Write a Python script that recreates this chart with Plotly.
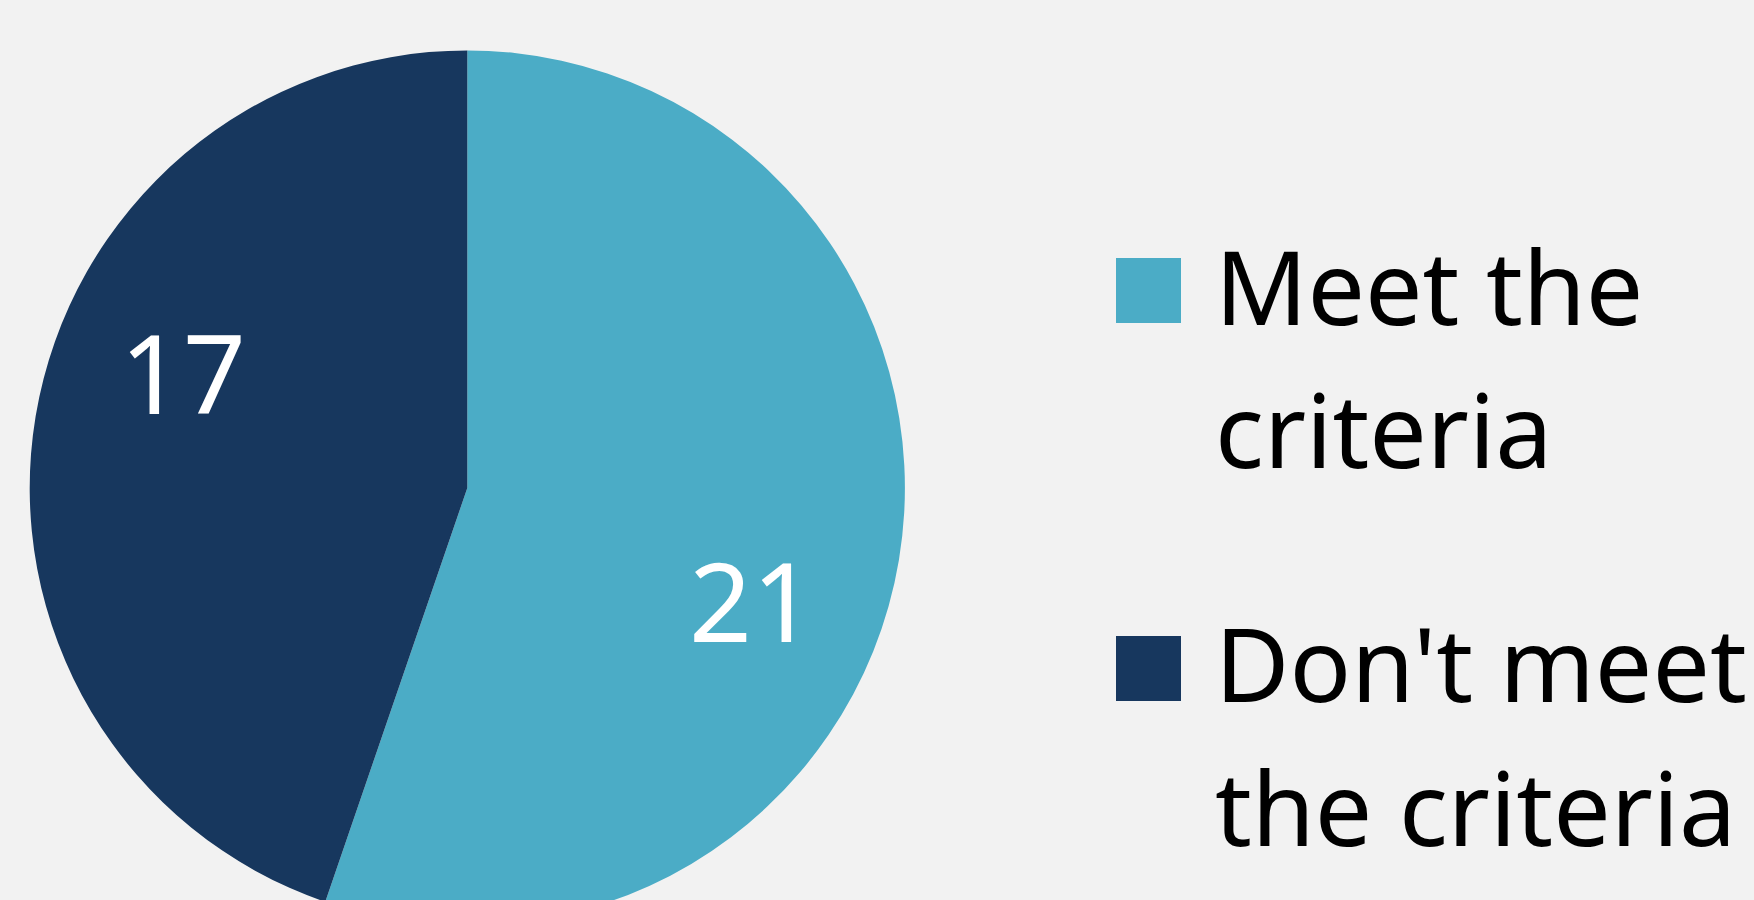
import math
import plotly.graph_objects as go

# ---- data ----
labels = ["Meet the criteria", "Don't meet the criteria"]
values = [21, 17]
legend_lines = [["Meet the", "criteria"], ["Don't meet", "the criteria"]]
colors = ["#4BACC6", "#17375E"]

W, H = 1754, 976
BG = "#F2F2F2"
FONT = "Noto Sans"


def py(px):
    return 1 - px / H


def pxx(px):
    return px / W


# pie geometry (pixels)
cx, cy, R = 467.3, 488.0, 437.6

fig = go.Figure(
    go.Pie(
        labels=labels,
        values=values,
        sort=False,
        direction="clockwise",
        rotation=0,
        marker=dict(colors=colors, line=dict(width=0)),
        textinfo="none",
        domain=dict(x=[pxx(cx - R), pxx(cx + R)], y=[py(cy + R), py(cy - R)]),
        showlegend=False,
        hoverinfo="label+value",
    )
)

annotations = []

# data labels placed like the original (best-fit style) inside each slice
total = sum(values)
label_r = 0.70 * R
label_shift = 12.3  # degrees clockwise from the slice mid-angle
start = 0.0
for v in values:
    span = 360.0 * v / total
    ang = math.radians(start + span / 2 + label_shift)  # clockwise from 12 o'clock
    lx = cx + label_r * math.sin(ang)
    ly = cy - label_r * math.cos(ang)
    annotations.append(
        dict(
            text=str(v),
            xref="paper",
            yref="paper",
            x=pxx(lx),
            y=py(ly - 3),
            xanchor="center",
            yanchor="middle",
            showarrow=False,
            font=dict(family=FONT, size=110, color="white"),
        )
    )
    start += span

# legend drawn manually (large swatches)
sw_x0, sw_x1 = 1116, 1181
sw_tops = [258, 636]
sw_size = 65
text_x = 1213
line_centers = [[288.5, 431.5], [665.5, 809.5]]

shapes = []
for i, lines in enumerate(legend_lines):
    shapes.append(
        dict(
            type="rect",
            xref="paper",
            yref="paper",
            x0=pxx(sw_x0),
            x1=pxx(sw_x1),
            y0=py(sw_tops[i] + sw_size),
            y1=py(sw_tops[i]),
            fillcolor=colors[i],
            line=dict(width=0),
        )
    )
    for j, ln in enumerate(lines):
        annotations.append(
            dict(
                text=ln,
                xref="paper",
                yref="paper",
                x=pxx(text_x),
                y=py(line_centers[i][j] - 3),
                xanchor="left",
                yanchor="middle",
                showarrow=False,
                font=dict(family=FONT, size=102, color="black"),
            )
        )

fig.update_layout(
    width=W,
    height=H,
    margin=dict(l=0, r=0, t=0, b=0),
    paper_bgcolor=BG,
    plot_bgcolor=BG,
    shapes=shapes,
    annotations=annotations,
)

fig.write_html(
    "out.html",
    post_script="document.body.style.margin='0';document.body.style.overflow='hidden';document.documentElement.style.overflow='hidden';",
)
